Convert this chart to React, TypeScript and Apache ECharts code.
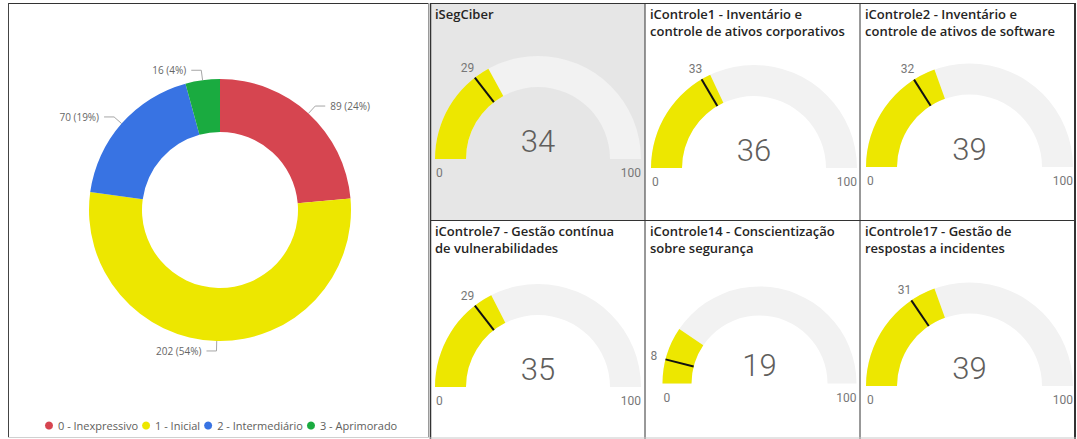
import React, { useEffect, useRef } from "react";
import * as echarts from "echarts";

// ---------- data ----------
const donutCategories = ["0 - Inexpressivo", "1 - Inicial", "2 - Intermediário", "3 - Aprimorado"];
const donutValues = [89, 202, 70, 16];

const gaugeTitles = [
  ["iSegCiber"],
  ["iControle1 - Inventário e", "controle de ativos corporativos"],
  ["iControle2 - Inventário e", "controle de ativos de software"],
  ["iControle7 - Gestão contínua", "de vulnerabilidades"],
  ["iControle14 - Conscientização", "sobre segurança"],
  ["iControle17 - Gestão de", "respostas a incidentes"],
];
const gaugeValues = [34, 36, 39, 35, 19, 39];
const gaugeTargets = [29, 33, 32, 29, 8, 31];
const gaugeMin = 0;
const gaugeMax = 100;
const gaugeTickLabels = ["0", "100"];

// ---------- styles / layout ----------
const donutColors = ["#D64550", "#EDE700", "#3873E3", "#1AAB40"];
const YELLOW = "#EDE700";
const TRACK = "#F2F2F2";
const panelBoxes = [
  { x: 430, y: 3, w: 215, h: 217 },
  { x: 645, y: 3, w: 215, h: 217 },
  { x: 860, y: 3, w: 215, h: 217 },
  { x: 430, y: 220, w: 215, h: 218 },
  { x: 645, y: 220, w: 215, h: 218 },
  { x: 860, y: 220, w: 215, h: 218 },
];
const gaugeGeom = [
  { cx: 538, cy: 159, r: 103 },
  { cx: 754, cy: 168, r: 103 },
  { cx: 969.5, cy: 167, r: 103.5 },
  { cx: 538, cy: 387, r: 103 },
  { cx: 759.5, cy: 383.5, r: 97 },
  { cx: 969.5, cy: 386, r: 103.5 },
];
const panelBgs = ["#E6E6E6", "#FFFFFF", "#FFFFFF", "#FFFFFF", "#FFFFFF", "#FFFFFF"];

const UI_FONT = "'Segoe UI', 'Open Sans', sans-serif";
const TITLE_FONT = "'Open Sans', sans-serif";
const NUM_FONT = "Roboto, 'Open Sans', sans-serif";

export default function App() {
  const ref = useRef<HTMLDivElement>(null);

  useEffect(() => {
    if (!ref.current) return;
    const chart = echarts.init(ref.current, undefined, { renderer: "svg" });
    const total = donutValues.reduce((a, b) => a + b, 0);

    const series: any[] = [];
    series.push({
      type: "pie",
      center: [220, 210],
      radius: [78, 131],
      startAngle: 90,
      clockwise: true,
      silent: true,
      avoidLabelOverlap: true,
      label: {
        show: true,
        position: "outside",
        color: "#666666",
        fontSize: 10,
        fontFamily: UI_FONT,
        formatter: (p: any) => `${p.value} (${Math.round((p.value / total) * 100)}%)`,
      },
      labelLine: { show: true, length: 10, length2: 10, lineStyle: { color: "#A6A6A6", width: 1 } },
      data: donutCategories.map((name, i) => ({
        name,
        value: donutValues[i],
        itemStyle: { color: donutColors[i] },
      })),
    });

    const graphics: any[] = [];
    // panel backgrounds
    panelBoxes.forEach((b, i) => {
      graphics.push({
        type: "rect",
        shape: { x: b.x, y: b.y, width: b.w, height: b.h },
        style: { fill: panelBgs[i] },
        z: 0,
      });
    });

    gaugeValues.forEach((v, i) => {
      const g = gaugeGeom[i];
      const band = Math.round(g.r * 0.3);
      series.push({
        type: "gauge",
        z: 2,
        center: [g.cx, g.cy],
        radius: g.r,
        startAngle: 180,
        endAngle: 0,
        min: gaugeMin,
        max: gaugeMax,
        silent: true,
        axisLine: { show: true, lineStyle: { width: band, color: [[1, TRACK]] } },
        progress: { show: true, width: band, itemStyle: { color: YELLOW } },
        pointer: { show: false },
        anchor: { show: false },
        axisTick: { show: false },
        splitLine: { show: false },
        axisLabel: { show: false },
        title: { show: false },
        detail: {
          show: true,
          offsetCenter: [0, -18],
          fontSize: 31,
          fontWeight: 300,
          fontFamily: NUM_FONT,
          color: "#605E5C",
          formatter: "{value}",
        },
        data: [{ value: v }],
      });
      series.push({
        type: "gauge",
        z: 5,
        center: [g.cx, g.cy],
        radius: g.r,
        startAngle: 180,
        endAngle: 0,
        min: gaugeMin,
        max: gaugeMax,
        silent: true,
        axisLine: { show: true, lineStyle: { width: 0, color: [[1, "rgba(0,0,0,0)"]] } },
        progress: { show: false },
        pointer: {
          show: true,
          showAbove: true,
          icon: "rect",
          width: 2,
          length: band,
          offsetCenter: [0, -(g.r - band)],
          itemStyle: { color: "#111111", opacity: 1 },
        },
        itemStyle: { color: "#111111" },
        anchor: { show: false },
        axisTick: { show: false },
        splitLine: { show: false },
        axisLabel: { show: false },
        title: { show: false },
        detail: { show: false },
        data: [{ value: gaugeTargets[i] }],
      });

      // titles
      const b = panelBoxes[i];
      gaugeTitles[i].forEach((line, li) => {
        graphics.push({
          type: "text",
          x: b.x + 5,
          y: b.y + 11 + li * 16.5,
          z: 10,
          style: {
            text: line,
            fill: "#252423",
            fontSize: 13,
            fontWeight: 600,
            fontFamily: TITLE_FONT,
            align: "left",
            verticalAlign: "middle",
          },
        });
      });
      // min / max labels
      graphics.push({
        type: "text",
        x: g.cx - g.r + 1,
        y: g.cy + 14,
        z: 10,
        style: { text: gaugeTickLabels[0], fill: "#777777", fontSize: 12, fontFamily: NUM_FONT, align: "left", verticalAlign: "middle" },
      });
      graphics.push({
        type: "text",
        x: g.cx + g.r,
        y: g.cy + 14,
        z: 10,
        style: { text: gaugeTickLabels[1], fill: "#777777", fontSize: 12, fontFamily: NUM_FONT, align: "right", verticalAlign: "middle" },
      });
      // target label
      const t = gaugeTargets[i];
      const ang = Math.PI * (1 - (t - gaugeMin) / (gaugeMax - gaugeMin));
      const lr = g.r + 12;
      graphics.push({
        type: "text",
        x: g.cx + lr * Math.cos(ang),
        y: g.cy - lr * Math.sin(ang),
        z: 10,
        style: { text: String(t), fill: "#777777", fontSize: 12, fontFamily: NUM_FONT, align: "center", verticalAlign: "middle" },
      });
    });

    // borders
    const line = (x1: number, y1: number, x2: number, y2: number, color: string, w = 1) => ({
      type: "line",
      z: 20,
      shape: { x1, y1, x2, y2 },
      style: { stroke: color, lineWidth: w },
    });
    // left panel
    graphics.push(line(8, 3.5, 429, 3.5, "#333333"));
    graphics.push(line(8.5, 3, 8.5, 438, "#444444"));
    graphics.push(line(428.5, 3, 428.5, 438, "#9A9A9A"));
    graphics.push(line(8, 437.5, 429, 437.5, "#D0D0D0"));
    // gauge grid
    graphics.push(line(430, 3.5, 1076, 3.5, "#333333"));
    graphics.push(line(430.5, 3, 430.5, 439, "#333333", 1.5));
    graphics.push(line(645, 3, 645, 439, "#333333"));
    graphics.push(line(860, 3, 860, 439, "#333333"));
    graphics.push(line(1075, 3, 1075, 439, "#333333", 2));
    graphics.push(line(430, 220.5, 1076, 220.5, "#333333"));
    graphics.push(line(430, 438, 1076, 438, "#C8C8C8"));

    chart.setOption({
      animation: false,
      backgroundColor: "#FFFFFF",
      legend: {
        show: true,
        left: 40,
        top: 415,
        icon: "circle",
        itemWidth: 8,
        itemHeight: 8,
        itemGap: 4,
        textStyle: { color: "#605E5C", fontSize: 11, fontFamily: UI_FONT },
        data: donutCategories,
        selectedMode: false,
      },
      graphic: graphics,
      series,
    });

    return () => chart.dispose();
  }, []);

  return (
    <div
      ref={ref}
      style={{ position: "absolute", left: 0, top: 0, width: 1077, height: 439 }}
    />
  );
}
